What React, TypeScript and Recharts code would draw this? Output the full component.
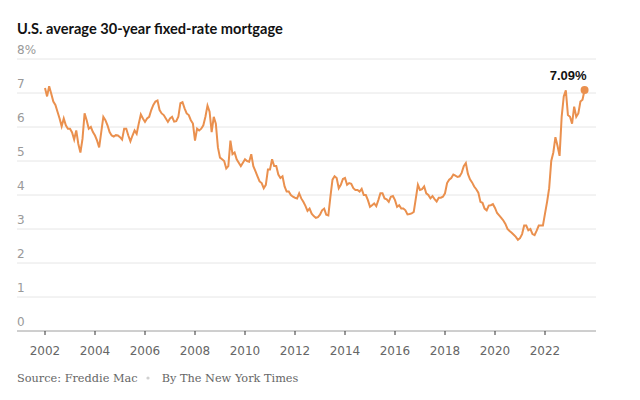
import { LineChart, Line, XAxis, YAxis, CartesianGrid } from 'recharts'

// monthly averages, Jan..Dec (percent)
const startYear = 2002
const rates2002 = [7.15, 6.9, 7.2, 6.98, 6.75, 6.65, 6.45, 6.25, 6.02, 6.25, 6.05, 5.95]
const rates2003 = [5.95, 5.84, 5.63, 5.9, 5.5, 5.25, 5.65, 6.4, 6.2, 5.95, 6.0, 5.85]
const rates2004 = [5.75, 5.6, 5.4, 5.85, 6.3, 6.2, 6.05, 5.85, 5.75, 5.72, 5.76, 5.75]
const rates2005 = [5.7, 5.63, 5.95, 5.95, 5.75, 5.58, 5.75, 5.9, 5.8, 6.1, 6.37, 6.25]
const rates2006 = [6.15, 6.25, 6.3, 6.5, 6.65, 6.75, 6.78, 6.5, 6.4, 6.35, 6.25, 6.15]
const rates2007 = [6.25, 6.3, 6.16, 6.17, 6.3, 6.7, 6.73, 6.55, 6.4, 6.35, 6.2, 6.1]
const rates2008 = [5.6, 5.95, 5.9, 5.95, 6.05, 6.3, 6.63, 6.45, 5.85, 6.3, 6.1, 5.4]
const rates2009 = [5.1, 5.05, 5.0, 4.78, 4.85, 5.6, 5.2, 5.25, 5.05, 4.95, 4.85, 4.95]
const rates2010 = [5.05, 5.0, 4.98, 5.2, 4.85, 4.7, 4.55, 4.4, 4.35, 4.2, 4.3, 4.75]
const rates2011 = [4.75, 5.05, 4.85, 4.85, 4.6, 4.5, 4.55, 4.25, 4.1, 4.1, 4.0, 3.95]
const rates2012 = [3.92, 3.9, 4.05, 3.9, 3.8, 3.68, 3.53, 3.6, 3.45, 3.38, 3.33, 3.35]
const rates2013 = [3.42, 3.55, 3.6, 3.42, 3.4, 3.95, 4.45, 4.55, 4.5, 4.2, 4.3, 4.47]
const rates2014 = [4.5, 4.3, 4.35, 4.33, 4.2, 4.15, 4.15, 4.1, 4.18, 4.0, 4.0, 3.85]
const rates2015 = [3.65, 3.7, 3.75, 3.67, 3.85, 4.05, 4.05, 3.9, 3.87, 3.8, 3.95, 3.97]
const rates2016 = [3.85, 3.65, 3.7, 3.6, 3.6, 3.55, 3.43, 3.44, 3.46, 3.5, 3.9, 4.3]
const rates2017 = [4.15, 4.17, 4.25, 4.05, 4.0, 3.9, 3.97, 3.88, 3.81, 3.92, 3.92, 3.95]
const rates2018 = [4.05, 4.35, 4.45, 4.5, 4.6, 4.57, 4.53, 4.55, 4.65, 4.85, 4.94, 4.62]
const rates2019 = [4.46, 4.37, 4.25, 4.17, 4.07, 3.8, 3.77, 3.6, 3.55, 3.69, 3.7, 3.73]
const rates2020 = [3.62, 3.47, 3.4, 3.33, 3.25, 3.15, 3.0, 2.94, 2.89, 2.83, 2.77, 2.68]
const rates2021 = [2.73, 2.85, 3.1, 3.1, 2.96, 3.0, 2.85, 2.82, 2.95, 3.1, 3.1, 3.1]
const rates2022 = [3.45, 3.8, 4.2, 5.0, 5.25, 5.7, 5.45, 5.15, 6.3, 6.9, 7.08, 6.35]
const rates2023 = [6.3, 6.1, 6.6, 6.3, 6.4, 6.75, 6.8, 7.09]

const ratesByYear = [
  rates2002, rates2003, rates2004, rates2005, rates2006, rates2007, rates2008, rates2009,
  rates2010, rates2011, rates2012, rates2013, rates2014, rates2015, rates2016, rates2017,
  rates2018, rates2019, rates2020, rates2021, rates2022, rates2023,
]

const yearTicks = [2002, 2004, 2006, 2008, 2010, 2012, 2014, 2016, 2018, 2020, 2022]
const rateTicks = [0, 1, 2, 3, 4, 5, 6, 7, 8]
const lastLabel = '7.09%'

const data = ratesByYear.flatMap((rates, i) =>
  rates.map((rate, m) => ({ t: startYear + i + m / 12, rate }))
)

const ORANGE = '#ea904e'
const lastIndex = data.length - 1

const YTick = (props: any) => {
  const { x, y, payload } = props
  return (
    <text x={x} y={y - 5} fill="#999" fontSize={12} fontFamily="DejaVu Sans" textAnchor="start">
      {payload.value === 8 ? '8%' : payload.value}
    </text>
  )
}

const EndDot = (props: any) => {
  const { cx, cy, index } = props
  if (index !== lastIndex) return <g key={`d-${index}`} />
  return (
    <g key={`d-${index}`}>
      <circle cx={cx} cy={cy} r={4} fill={ORANGE} />
      <text
        x={cx + 2}
        y={cy - 10}
        textAnchor="end"
        fontSize={13}
        fontWeight="bold"
        fontFamily="Liberation Sans"
        fill="#121212"
      >
        {lastLabel}
      </text>
    </g>
  )
}

export default function App() {
  return (
    <div style={{ position: 'absolute', left: 0, top: 0, width: 640, height: 400, background: '#fff' }}>
      <LineChart width={640} height={400} data={data} margin={{ top: 59, right: 44, left: 16, bottom: 39 }}>
        <CartesianGrid horizontal vertical={false} stroke="#e6e6e6" />
        <XAxis
          dataKey="t"
          type="number"
          domain={[2000.88, 2024.04]}
          ticks={yearTicks}
          interval={0}
          height={30}
          axisLine={{ stroke: '#aaa' }}
          tickLine={{ stroke: '#333' }}
          tickSize={4}
          tickMargin={11}
          tick={{ fill: '#666', fontSize: 12, fontFamily: 'DejaVu Sans' }}
        />
        <YAxis
          type="number"
          domain={[0, 8]}
          ticks={rateTicks}
          interval={0}
          width={1}
          axisLine={false}
          tickLine={false}
          tickSize={0}
          tickMargin={0}
          tick={YTick}
        />
        <Line
          type="linear"
          dataKey="rate"
          stroke={ORANGE}
          strokeWidth={2}
          dot={EndDot}
          activeDot={false}
          isAnimationActive={false}
        />
      </LineChart>
      <svg width={640} height={400} style={{ position: 'absolute', left: 0, top: 0, pointerEvents: 'none' }}>
        <text x={17} y={34} fontSize={14.6} fontWeight="bold" fontFamily="Lato" fill="#121212">
          U.S. average 30-year fixed-rate mortgage
        </text>
        <text x={17} y={382} fontSize={11.3} fontFamily="DejaVu Serif" fill="#666">
          Source: Freddie Mac
        </text>
        <circle cx={148} cy={378} r={1.6} fill="#d0d0d0" />
        <text x={161.7} y={382} fontSize={11.3} fontFamily="DejaVu Serif" fill="#666">
          By The New York Times
        </text>
      </svg>
    </div>
  )
}
